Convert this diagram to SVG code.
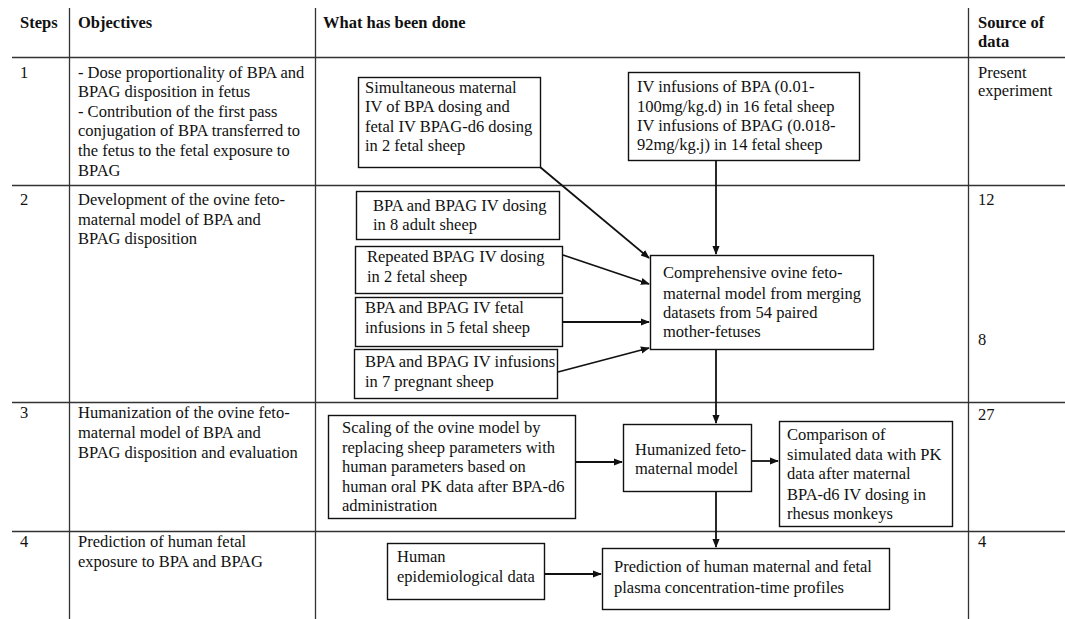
<svg xmlns="http://www.w3.org/2000/svg" width="1065" height="619" viewBox="0 0 1065 619" font-family="'Liberation Serif','Times New Roman',serif">
<style>
text{font-family:"Liberation Serif","Times New Roman",serif;font-size:16.5px;fill:#111}
.h{font-weight:bold}
.grid line{stroke:#333;stroke-width:1.3}
.box rect{fill:#fff;stroke:#111;stroke-width:1.4}
.conn line{stroke:#111;stroke-width:1.8;marker-end:url(#ah)}
</style>
<defs>
<marker id="ah" viewBox="0 0 10 10" refX="9" refY="5" markerWidth="5" markerHeight="5" orient="auto" markerUnits="strokeWidth">
<path d="M0,1 L10,5 L0,9 z" fill="#111"/>
</marker>
</defs>
<rect width="1065" height="619" fill="#fff"/>
<g id="table" class="grid">
<line x1="69.5" y1="8" x2="69.5" y2="619"/>
<line x1="315.5" y1="8" x2="315.5" y2="619"/>
<line x1="968.5" y1="8" x2="968.5" y2="619"/>
<line x1="12" y1="57.5" x2="1065" y2="57.5"/>
<line x1="12" y1="185.5" x2="1065" y2="185.5"/>
<line x1="12" y1="402.5" x2="1065" y2="402.5"/>
<line x1="12" y1="531.5" x2="1065" y2="531.5"/>
</g>
<g id="header">
<text class="h" x="20" y="28">Steps</text>
<text class="h" x="78" y="28">Objectives</text>
<text class="h" x="323" y="28">What has been done</text>
<text class="h" x="978" y="28">Source of</text>
<text class="h" x="978" y="47">data</text>
</g>
<g id="steps">
<text x="20" y="78">1</text>
<text x="20" y="205">2</text>
<text x="20" y="418">3</text>
<text x="20" y="547">4</text>
</g>
<g id="objectives">
<text x="78" y="78">- Dose proportionality of BPA and</text>
<text x="78" y="97">BPAG disposition in fetus</text>
<text x="78" y="117">- Contribution of the first pass</text>
<text x="78" y="136">conjugation of BPA transferred to</text>
<text x="78" y="156">the fetus to the fetal exposure to</text>
<text x="78" y="176">BPAG</text>
<text x="78" y="205">Development of the ovine feto-</text>
<text x="78" y="225">maternal model of BPA and</text>
<text x="78" y="244">BPAG disposition</text>
<text x="78" y="418">Humanization of the ovine feto-</text>
<text x="78" y="438">maternal model of BPA and</text>
<text x="78" y="458">BPAG disposition and evaluation</text>
<text x="78" y="547">Prediction of human fetal</text>
<text x="78" y="567">exposure to BPA and BPAG</text>
</g>
<g id="sources">
<text x="978" y="78">Present</text>
<text x="978" y="96">experiment</text>
<text x="978" y="205">12</text>
<text x="978" y="345">8</text>
<text x="978" y="420">27</text>
<text x="978" y="547">4</text>
</g>
<g id="connectors" class="conn">
<line x1="540" y1="167" x2="649" y2="258"/>
<line x1="716" y1="160" x2="716" y2="254"/>
<line x1="563" y1="255" x2="649" y2="284"/>
<line x1="563" y1="322" x2="649" y2="322"/>
<line x1="558" y1="372" x2="649" y2="348"/>
<line x1="716" y1="349" x2="716" y2="423"/>
<line x1="575" y1="462" x2="622" y2="462"/>
<line x1="751" y1="461" x2="778" y2="461"/>
<line x1="716" y1="491" x2="716" y2="547"/>
<line x1="544" y1="574" x2="601" y2="574"/>
</g>
<g id="n_simultaneous" class="box">
<rect x="358.5" y="77.5" width="182" height="90"/>
<text x="365" y="93">Simultaneous maternal</text>
<text x="365" y="112">IV of BPA dosing and</text>
<text x="365" y="132">fetal IV BPAG-d6 dosing</text>
<text x="365" y="151">in 2 fetal sheep</text>
</g>
<g id="n_infusions" class="box">
<rect x="628.5" y="72.5" width="231" height="88"/>
<text x="637" y="92">IV infusions of BPA (0.01-</text>
<text x="637" y="112">100mg/kg.d) in 16 fetal sheep</text>
<text x="637" y="131">IV infusions of BPAG (0.018-</text>
<text x="637" y="150">92mg/kg.j) in 14 fetal sheep</text>
</g>
<g id="n_adult" class="box">
<rect x="356.5" y="191.5" width="203" height="48"/>
<text x="373" y="211">BPA and BPAG IV dosing</text>
<text x="373" y="230">in 8 adult sheep</text>
</g>
<g id="n_repeated" class="box">
<rect x="355.5" y="246.5" width="207" height="47"/>
<text x="367" y="262">Repeated BPAG IV dosing</text>
<text x="367" y="282">in 2 fetal sheep</text>
</g>
<g id="n_fetalinf" class="box">
<rect x="355.5" y="297.5" width="207" height="49"/>
<text x="365" y="313">BPA and BPAG IV fetal</text>
<text x="365" y="333">infusions in 5 fetal sheep</text>
</g>
<g id="n_pregnant" class="box">
<rect x="354.5" y="349.5" width="203" height="49"/>
<text x="365" y="367">BPA and BPAG IV infusions</text>
<text x="365" y="387">in 7 pregnant sheep</text>
</g>
<g id="n_comprehensive" class="box">
<rect x="650.5" y="255.5" width="223" height="94"/>
<text x="663" y="278">Comprehensive ovine feto-</text>
<text x="663" y="299">maternal model from merging</text>
<text x="663" y="318">datasets from 54 paired</text>
<text x="663" y="337">mother-fetuses</text>
</g>
<g id="n_scaling" class="box">
<rect x="328.5" y="415.5" width="247" height="103"/>
<text x="342" y="433">Scaling of the ovine model by</text>
<text x="342" y="453">replacing sheep parameters with</text>
<text x="342" y="472">human parameters based on</text>
<text x="342" y="492">human oral PK data after BPA-d6</text>
<text x="342" y="511">administration</text>
</g>
<g id="n_humanized" class="box">
<rect x="623.5" y="424.5" width="128" height="67"/>
<text x="635" y="455">Humanized feto-</text>
<text x="635" y="474">maternal model</text>
</g>
<g id="n_comparison" class="box">
<rect x="779.5" y="421.5" width="173" height="105"/>
<text x="787" y="440">Comparison of</text>
<text x="787" y="460">simulated data with PK</text>
<text x="787" y="479">data after maternal</text>
<text x="787" y="500">BPA-d6 IV dosing in</text>
<text x="787" y="519">rhesus monkeys</text>
</g>
<g id="n_epidemiological" class="box">
<rect x="387.5" y="543.5" width="157" height="56"/>
<text x="397" y="562">Human</text>
<text x="397" y="582">epidemiological data</text>
</g>
<g id="n_prediction" class="box">
<rect x="602.5" y="548.5" width="287" height="61"/>
<text x="614" y="572">Prediction of human maternal and fetal</text>
<text x="614" y="593">plasma concentration-time profiles</text>
</g>
</svg>
